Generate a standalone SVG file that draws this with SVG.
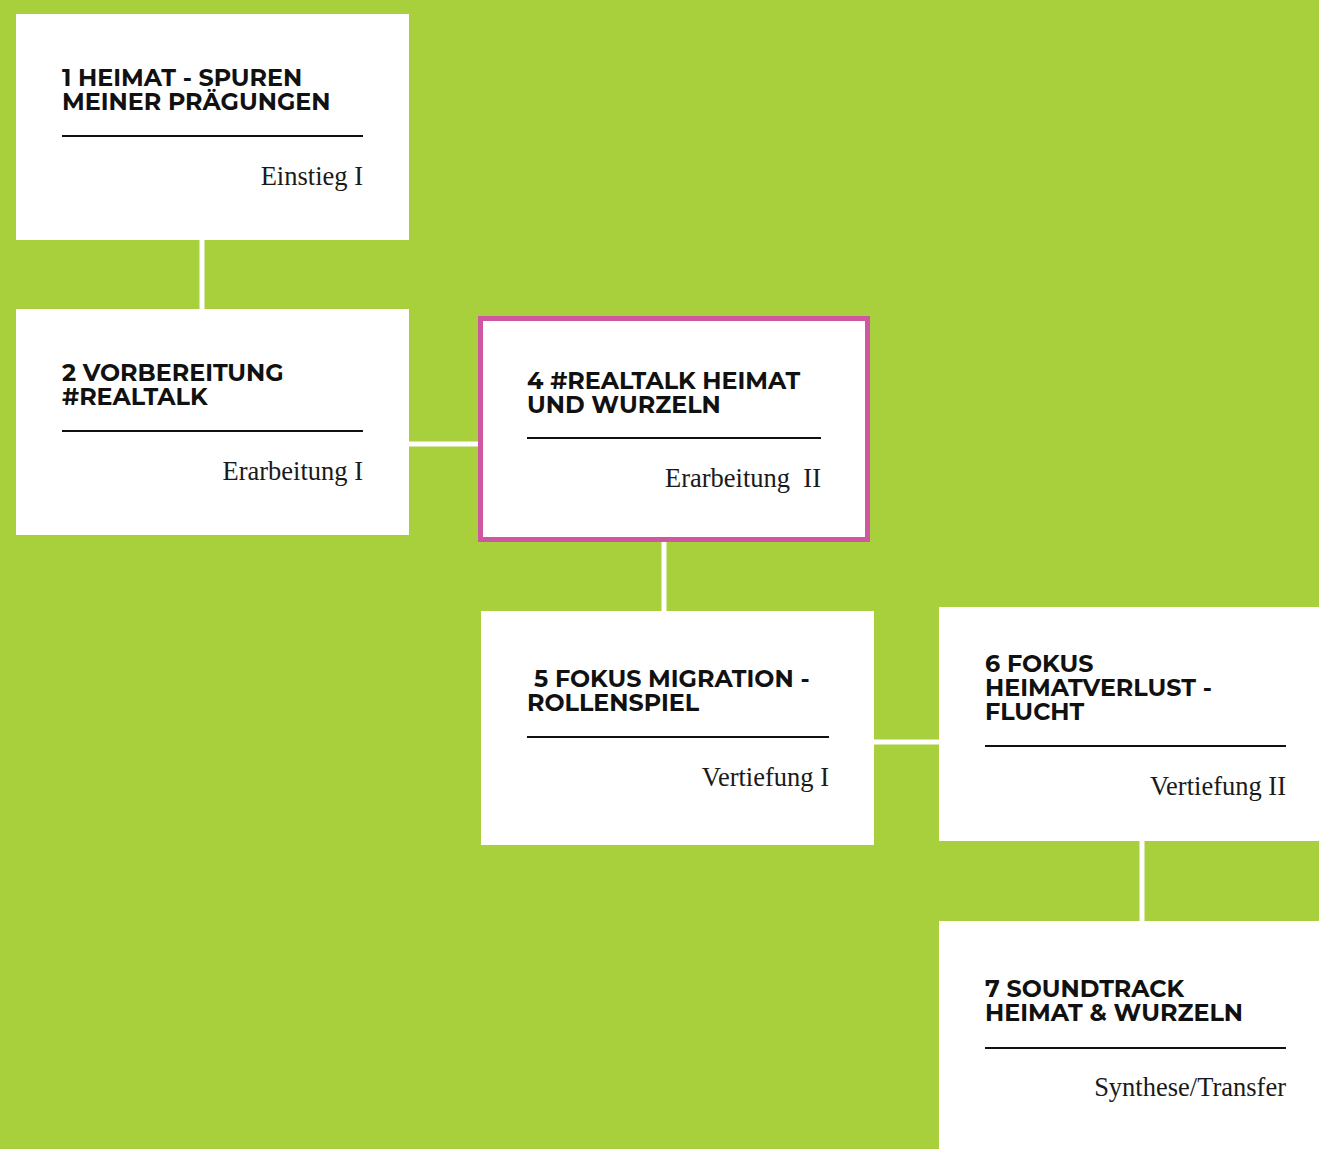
<svg xmlns="http://www.w3.org/2000/svg" width="1319" height="1149" viewBox="0 0 1319 1149">
<style>
.box{fill:#ffffff}
.t{font-family:Montserrat,"Inter","DejaVu Sans",sans-serif;font-weight:700;font-size:23.8px;fill:#111111}
.s{font-family:"Liberation Serif","DejaVu Serif",serif;font-size:26.5px;fill:#1a1a1a;text-anchor:end}
.rule{stroke:#111111;stroke-width:2}
.con{stroke:#ffffff;stroke-width:5;fill:none}
</style>
<rect width="1319" height="1149" fill="#a8cf3c"/>
<g id="connectors">
<line class="con" x1="202" y1="240" x2="202" y2="309"/>
<line class="con" x1="409" y1="444" x2="481" y2="444"/>
<line class="con" x1="664" y1="542" x2="664" y2="611"/>
<line class="con" x1="874" y1="742" x2="939" y2="742"/>
<line class="con" x1="1142" y1="841" x2="1142" y2="921"/>
</g>
<g id="node1">
<rect class="box" x="16" y="14" width="393" height="226"/>
<text class="t"><tspan x="62" y="86">1 HEIMAT - SPUREN</tspan><tspan x="62" y="110">MEINER PRÄGUNGEN</tspan></text>
<line class="rule" x1="62" y1="136" x2="363" y2="136"/>
<text class="s" x="363" y="185">Einstieg I</text>
</g>
<g id="node2">
<rect class="box" x="16" y="309" width="393" height="226"/>
<text class="t"><tspan x="62" y="381">2 VORBEREITUNG</tspan><tspan x="62" y="405">#REALTALK</tspan></text>
<line class="rule" x1="62" y1="431" x2="363" y2="431"/>
<text class="s" x="363" y="480">Erarbeitung I</text>
</g>
<g id="node4">
<rect x="480.5" y="318.5" width="387" height="221" fill="#ffffff" stroke="#cf57a1" stroke-width="5"/>
<text class="t"><tspan x="527" y="389">4 #REALTALK HEIMAT</tspan><tspan x="527" y="413">UND WURZELN</tspan></text>
<line class="rule" x1="527" y1="438" x2="821" y2="438"/>
<text class="s" x="821" y="487" xml:space="preserve">Erarbeitung  II</text>
</g>
<g id="node5">
<rect class="box" x="481" y="611" width="393" height="234"/>
<text class="t"><tspan x="534" y="687">5 FOKUS MIGRATION -</tspan><tspan x="527" y="711">ROLLENSPIEL</tspan></text>
<line class="rule" x1="527" y1="737" x2="829" y2="737"/>
<text class="s" x="829" y="786">Vertiefung I</text>
</g>
<g id="node6">
<rect class="box" x="939" y="607" width="380" height="234"/>
<text class="t"><tspan x="985" y="672">6 FOKUS</tspan><tspan x="985" y="696">HEIMATVERLUST -</tspan><tspan x="985" y="720">FLUCHT</tspan></text>
<line class="rule" x1="985" y1="746" x2="1286" y2="746"/>
<text class="s" x="1286" y="795">Vertiefung II</text>
</g>
<g id="node7">
<rect class="box" x="939" y="921" width="380" height="228"/>
<text class="t"><tspan x="985" y="997">7 SOUNDTRACK</tspan><tspan x="985" y="1021">HEIMAT &amp; WURZELN</tspan></text>
<line class="rule" x1="985" y1="1048" x2="1286" y2="1048"/>
<text class="s" x="1286" y="1096">Synthese/Transfer</text>
</g>
</svg>
